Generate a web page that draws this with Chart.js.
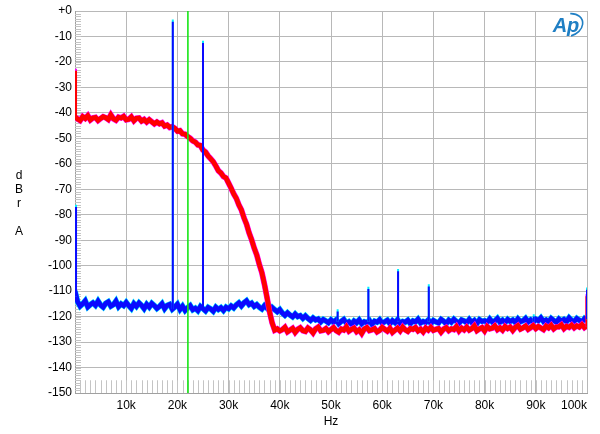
<!DOCTYPE html>
<html>
<head>
<meta charset="utf-8">
<script src="https://cdn.jsdelivr.net/npm/chart.js@4.4.1/dist/chart.umd.min.js"></script>
<style>
  html, body { margin: 0; padding: 0; background: #fff; }
  #wrap { width: 600px; height: 434px; }
</style>
</head>
<body>
<div id="wrap"><canvas id="fftChart" width="600" height="434"></canvas></div>
<script>
// FFT bins, 500 Hz apart, 0 .. 100 kHz
const binStep = 500;

// red trace (magenta underneath), dBr
const redLevels = [
  -41.6,-42.4,-43.0,-41.5,-42.2,-41.1,-42.8,-42.0,-41.8,-43.0,-42.2,-41.5,-41.9,-42.6,-40.8,-42.3,-42.9,-41.7,-42.0,-41.4,-42.7,-42.5,-41.6,-43.1,-42.1,
  -42.0,-43.2,-42.6,-43.6,-42.7,-43.5,-44.3,-43.6,-44.3,-43.9,-45.2,-44.8,-45.7,-45.4,-46.1,-47.2,
  -47.0,-48.2,-48.4,-49.3,-50.0,-51.0,-51.5,-52.6,-52.8,-54.6,-55.4,-56.9,-58.0,-59.2,-60.8,-62.7,-63.6,-65.0,-65.6,-67.6,
  -69.6,-71.8,-73.5,-76.1,-78.1,-81.2,-83.7,-87.1,-89.8,-93.1,-95.8,-99.5,-102.7,-107.3,-112.5,-118.1,-122.4,-125.3,
  -124.8,-125.6,-125.1,-124.2,-126.0,-125.3,-124.6,-126.2,-125.0,-124.4,
  -125.5,-125.8,-124.5,-125.2,-126.4,-124.8,-124.1,-125.6,-125.4,-124.7,
  -125.9,-125.1,-124.3,-125.5,-126.1,-124.9,-125.3,-124.0,-125.7,-125.0,
  -124.5,-125.9,-125.2,-126.6,-124.9,-124.3,-125.5,-125.2,-124.7,-126.0,
  -125.4,-124.2,-125.0,-125.7,-124.6,-126.2,-125.3,-124.5,-125.6,-124.1,
  -125.2,-125.8,-124.7,-125.0,-124.3,-125.6,-124.9,-126.0,-124.5,-125.3,
  -124.2,-125.4,-125.0,-124.7,-126.1,-124.9,-124.3,-125.5,-124.8,-125.1,
  -123.9,-125.6,-124.5,-125.2,-124.1,-125.3,-124.7,-123.6,-125.5,-124.8,
  -124.3,-125.6,-123.9,-124.8,-124.5,-123.6,-125.1,-124.4,-125.3,-123.9,
  -124.7,-124.1,-125.4,-124.2,-123.5,-124.9,-124.4,-123.7,-125.0,-124.3,
  -123.5,-124.7,-123.9,-124.5,-125.1,-123.7,-124.4,-123.4,-124.8,-124.0,
  -124.0,-123.2,-124.7,-123.8,-124.2,-123.3,-124.4,-123.6,-124.1,-123.1,
  -124.3,-123.6
];

// blue trace (cyan underneath), dBr
const blueLevels = [
  -110.0,
  -114.1,-115.9,-115.0,-113.8,-116.2,-115.3,-114.6,-115.6,-113.9,-115.5,
  -116.3,-114.8,-114.2,-115.9,-115.3,-113.9,-116.1,-115.0,-115.7,-114.4,
  -115.7,-116.8,-114.9,-116.0,-114.6,-115.6,-116.9,-115.2,-116.3,-114.8,
  -115.7,-116.8,-116.0,-114.9,-116.9,-115.6,-115.2,-117.1,-116.2,-115.1,
  -117.2,-115.9,-117.6,-116.5,-115.7,-117.3,-116.7,-117.7,-116.0,-116.9,
  -117.8,-116.4,-117.0,-117.9,-116.3,-117.2,-116.5,-117.6,-116.3,-116.9,
  -115.8,-116.6,-115.4,-114.6,-115.8,-114.6,-113.8,-115.3,-114.7,-116.0,
  -115.3,-116.3,-117.0,-115.7,-116.7,-117.6,-116.4,-117.3,-118.1,-117.2,
  -118.6,-119.5,-118.5,-119.4,-120.1,-119.0,-120.0,-119.6,-120.7,-119.7,
  -120.7,-121.5,-120.5,-121.3,-120.9,-122.1,-121.1,-121.7,-122.4,-121.3,
  -122.2,-121.3,-122.8,-121.9,-121.1,-122.6,-122.0,-123.0,-121.7,-122.4,
  -121.3,-122.8,-122.0,-122.4,-121.5,-123.0,-121.8,-122.2,-121.2,-122.6,
  -122.0,-121.4,-122.8,-121.6,-122.4,-121.2,-122.7,-121.9,-122.2,-121.4,
  -122.8,-121.7,-122.1,-121.0,-122.5,-121.9,-122.3,-121.3,-122.7,-121.5,
  -122.1,-122.5,-121.1,-121.8,-122.8,-121.4,-122.2,-121.0,-121.9,-122.6,
  -121.3,-121.7,-122.4,-121.1,-122.3,-121.5,-122.7,-121.2,-121.9,-121.6,
  -122.3,-120.9,-122.1,-121.7,-120.7,-122.2,-121.4,-122.4,-121.1,-121.9,
  -121.3,-122.3,-120.9,-122.0,-121.6,-120.7,-122.1,-121.3,-122.2,-121.0,
  -121.6,-120.5,-121.9,-121.3,-122.1,-120.7,-121.5,-122.2,-120.9,-121.8,
  -121.1,-122.0,-120.5,-121.5,-121.9,-120.7,-121.4,-122.1,-120.8,-121.6
];

// discrete tones sticking out of the noise
const blueSpikeFreqs = [200, 19100, 25000, 51300, 57300, 63100, 69100, 89600, 100000];
const blueSpikeTops  = [-77, -4.2, -12.6, -118, -109.2, -102.2, -108.2, -120, -109.5];
const blueSpikeBases = [-112, -117, -117, -122, -122, -122, -122, -122, -121];
const redSpikeFreqs = [200, 99900];
const redSpikeTops  = [-23.5, -112];
const redSpikeBases = [-42, -124];

// green cursor
const cursorFreq = 22050;

// axes
const xTicks = [10000, 20000, 30000, 40000, 50000, 60000, 70000, 80000, 90000, 100000];
const yTitleLetters = ['d', 'B', 'r', '', 'A'];

const toPoints = levels => levels.map((y, i) => ({x: i * binStep, y}));

function spikePoints(freqs, bases, tops, lift) {
    const pts = [];
    freqs.forEach((f, i) => {
        pts.push({x: f, y: bases[i]}, {x: f, y: tops[i] + lift}, {x: f, y: null});
    });
    return pts;
}

function line(label, data, color, width, order) {
    return {
        label, data, order,
        borderColor: color,
        borderWidth: width,
        pointRadius: 0,
        tension: 0,
        fill: false,
        spanGaps: false
    };
}

const minorTicks = {
    id: 'minorTicks',
    beforeDatasetsDraw(chart) {
        const {ctx, chartArea, scales: {x, y}} = chart;
        ctx.save();
        ctx.strokeStyle = '#c4c4c4';
        ctx.lineWidth = 1;
        ctx.beginPath();
        for (let v = -149; v < 0; v++) {
            const py = Math.round(y.getPixelForValue(v)) + 0.5;
            ctx.moveTo(chartArea.left, py);
            ctx.lineTo(chartArea.left + 6, py);
        }
        const yb = y.getPixelForValue(-150), yt = y.getPixelForValue(-145);
        for (let f = 1000; f < 100000; f += 1000) {
            const px = Math.round(x.getPixelForValue(f)) + 0.5;
            ctx.moveTo(px, yb);
            ctx.lineTo(px, yt);
        }
        ctx.stroke();
        ctx.restore();
    },
    afterDraw(chart) {
        const {ctx} = chart;
        ctx.save();
        // stacked y title
        ctx.fillStyle = '#000';
        ctx.font = '12px "Liberation Sans", Arial, sans-serif';
        ctx.textAlign = 'center';
        ctx.textBaseline = 'middle';
        yTitleLetters.forEach((ch, i) => ctx.fillText(ch, 19, 176 + i * 14));
        // Ap logo
        ctx.fillStyle = '#1f7fc4';
        ctx.strokeStyle = '#1f7fc4';
        ctx.font = 'italic bold 20px "Liberation Sans", Arial, sans-serif';
        ctx.fillText('Ap', 566, 26);
        ctx.lineWidth = 1.6;
        ctx.beginPath();
        ctx.ellipse(569, 25, 14, 11, -0.35, -1.2, 1.7);
        ctx.stroke();
        ctx.restore();
    }
};

new Chart(document.getElementById('fftChart').getContext('2d'), {
    type: 'line',
    data: {
        datasets: [
            line('cursor', [{x: cursorFreq, y: 0}, {x: cursorFreq, y: -150}], '#19e619', 1.6, 0),
            line('blue tones', spikePoints(blueSpikeFreqs, blueSpikeBases, blueSpikeTops, 0), '#0a0aff', 2, 1),
            line('cyan tones', spikePoints(blueSpikeFreqs, blueSpikeBases, blueSpikeTops, 0.9), '#00f0ff', 2, 2),
            line('red tones', spikePoints(redSpikeFreqs, redSpikeBases, redSpikeTops, 0), '#ff0000', 2, 3),
            line('magenta tones', spikePoints(redSpikeFreqs, redSpikeBases, redSpikeTops, 0.8), '#ff00ff', 2, 4),
            line('red', toPoints(redLevels), '#ff0000', 4.8, 5),
            line('magenta', toPoints(redLevels), '#ff00ff', 5.8, 6),
            line('blue', toPoints(blueLevels), '#0a0aff', 4.8, 7),
            line('cyan', toPoints(blueLevels), '#00e5ff', 5.8, 8)
        ]
    },
    options: {
        responsive: false,
        animation: false,
        layout: {padding: {top: 11, right: 13, left: 0, bottom: 0}},
        plugins: {legend: {display: false}, tooltip: {enabled: false}},
        scales: {
            x: {
                type: 'linear',
                min: 0,
                max: 100000,
                afterFit: s => { s.height = 41; },
                afterBuildTicks: s => { s.ticks = [{value: 0}].concat(xTicks.map(value => ({value}))); },
                grid: {color: '#b8b8b8', drawTicks: false},
                border: {color: '#a0a0a0'},
                ticks: {
                    padding: 5,
                    align: 'inner',
                    maxRotation: 0,
                    autoSkip: false,
                    color: '#000',
                    font: {family: '"Liberation Sans", Arial, sans-serif', size: 12},
                    callback: v => v === 0 ? '' : (v / 1000) + 'k'
                },
                title: {
                    display: true,
                    text: 'Hz',
                    color: '#000',
                    padding: {top: 0, bottom: 5},
                    font: {family: '"Liberation Sans", Arial, sans-serif', size: 12}
                }
            },
            y: {
                min: -150,
                max: 0,
                afterFit: s => { s.width = 75; },
                grid: {color: '#b8b8b8', drawTicks: false},
                border: {color: '#a0a0a0'},
                ticks: {
                    stepSize: 10,
                    padding: 3,
                    color: '#000',
                    font: {family: '"Liberation Sans", Arial, sans-serif', size: 12},
                    callback: v => v === 0 ? '+0' : v
                }
            }
        }
    },
    plugins: [minorTicks]
});
</script>
</body>
</html>
